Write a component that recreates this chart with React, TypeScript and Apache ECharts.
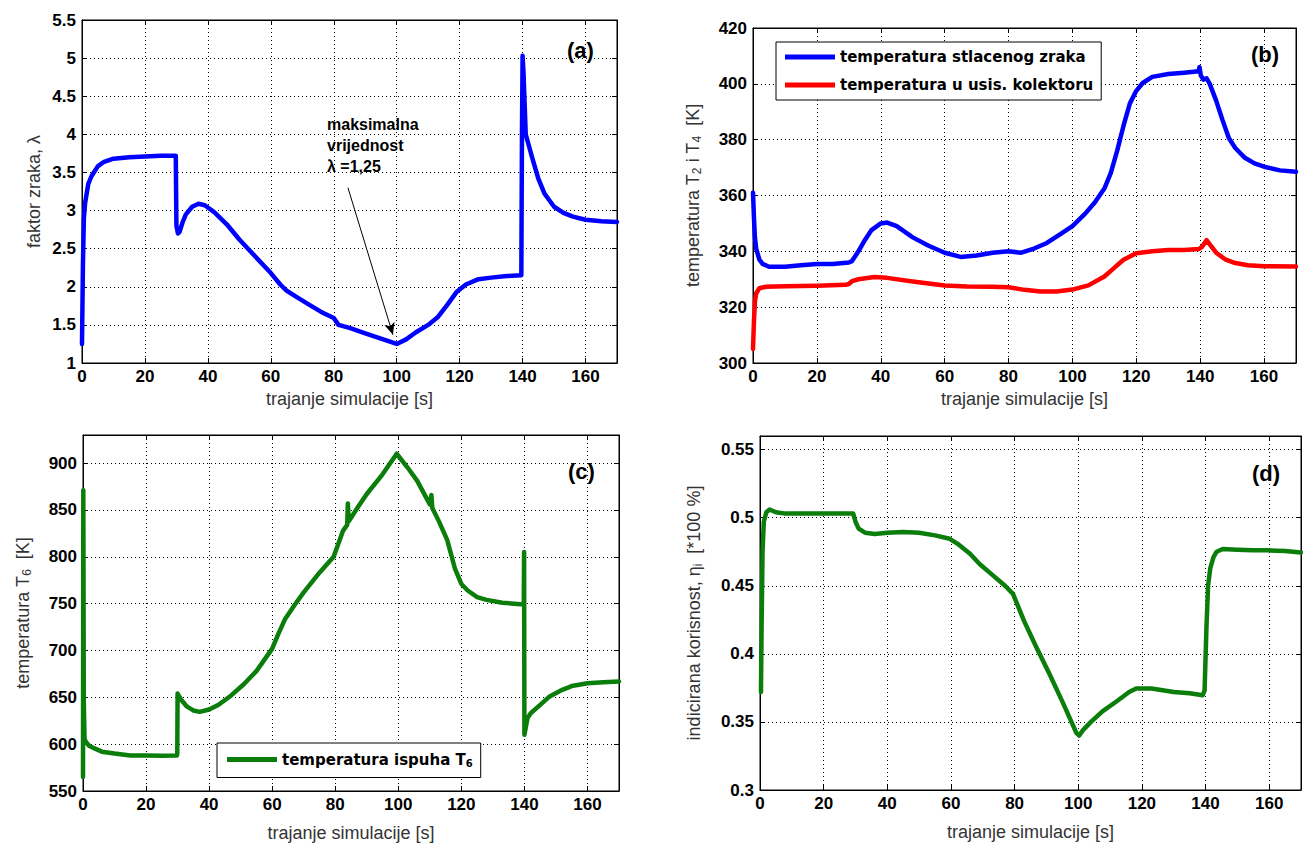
import React, { useEffect, useRef } from "react";
import * as echarts from "echarts";

// ---- Panel (a): air excess factor lambda ----
const timeA = [0, 0.3, 0.6, 1, 2, 3, 5, 7, 10, 15, 20, 25, 29.8, 30, 30.5, 31, 32, 33, 35, 37, 39, 42, 46, 50, 55, 60, 63, 65, 68, 72, 76, 80, 81.5, 85, 90, 95, 100, 103, 106, 110, 113, 116, 119, 122, 126, 130, 135, 139.6, 139.8, 140, 140.3, 141, 142, 143, 145, 147, 150, 153, 156, 160, 165, 170];
const lambdaA = [1.25, 2.3, 2.9, 3.1, 3.35, 3.45, 3.58, 3.64, 3.68, 3.7, 3.71, 3.72, 3.72, 2.8, 2.7, 2.72, 2.85, 2.95, 3.05, 3.09, 3.07, 2.98, 2.82, 2.62, 2.4, 2.18, 2.03, 1.95, 1.87, 1.77, 1.67, 1.59, 1.5, 1.46, 1.39, 1.32, 1.25, 1.31, 1.4, 1.5, 1.6, 1.76, 1.93, 2.03, 2.1, 2.12, 2.14, 2.15, 4.0, 5.03, 4.8, 4.0, 3.85, 3.7, 3.42, 3.22, 3.05, 2.97, 2.92, 2.88, 2.86, 2.85];

// ---- Panel (b): T2 (compressed air) and T4 (intake manifold) ----
const timeB1 = [0, 0.3, 0.6, 1, 2, 3, 5, 10, 15, 20, 25, 30, 31, 33, 35, 37, 40, 42, 45, 50, 55, 60, 65, 70, 75, 80, 84, 88, 92, 96, 100, 104, 107, 110, 112, 114, 116, 118, 120, 122, 125, 130, 135, 139.5, 139.8, 140.2, 141, 142, 143, 145, 147, 149, 151, 154, 157, 160, 165, 170];
const tempB1 = [361, 352, 345, 341, 337, 335.5, 334.5, 334.5, 335, 335.5, 335.5, 336, 336.5, 340, 344, 347.5, 350, 350.3, 349, 345, 342, 339.5, 338, 338.5, 339.5, 340, 339.5, 341, 343, 346, 349, 353.5, 357.5, 362.5, 368, 376, 385, 393, 397.5, 400.3, 402.5, 403.5, 404, 404.5, 406, 403, 401.5, 402, 400, 394, 387, 380.5, 377, 373.5, 371.5, 370.3, 369, 368.5];
const timeB2 = [0, 0.3, 0.6, 1, 2, 4, 10, 20, 29, 30, 31, 33, 38, 42, 50, 60, 67, 75, 80, 85, 90, 95, 100, 105, 110, 113, 116, 120, 125, 130, 135, 139.5, 140.5, 142, 143, 145, 148, 151, 155, 160, 170];
const tempB2 = [305, 315, 322, 325, 326.8, 327.3, 327.5, 327.7, 328, 328.3, 329.3, 330, 330.8, 330.5, 329.2, 327.8, 327.4, 327.3, 327.1, 326.2, 325.6, 325.6, 326.3, 327.8, 331, 334, 337, 339.3, 340, 340.5, 340.5, 340.8, 341.5, 344, 342.5, 339.5, 337, 335.8, 335, 334.7, 334.6];

// ---- Panel (c): exhaust temperature T6 ----
const timeC = [0, 0.1, 0.25, 0.5, 1, 2, 4, 6, 10, 15, 20, 25, 29.8, 29.9, 30, 31, 33, 35, 37, 40, 43, 47, 51, 55, 60, 62, 64, 67, 70, 75, 79.5, 82.5, 83.8, 84, 84.3, 87, 90, 95, 99.5, 103, 106, 110, 110.5, 110.8, 113, 115.5, 118, 120, 122, 125, 128, 133, 139.8, 139.9, 140, 141, 142, 145, 148, 152, 155, 160, 165, 170];
const tempC = [565, 871, 645, 605, 602, 598, 595, 592, 590, 588, 588, 587.5, 588, 590, 654, 648, 640, 636, 634.5, 637, 642, 652, 664, 678, 702, 718, 733, 748, 762, 783, 800, 828, 834, 857, 838, 852, 867, 888, 910, 895, 881, 856, 866, 852, 837, 818, 787, 771, 764, 757, 754, 751, 749, 805, 610, 628, 633, 642, 651, 658, 662, 665, 666, 667];

// ---- Panel (d): indicated efficiency ----
const timeD = [0.3, 0.5, 0.8, 1.2, 2, 3, 5, 8, 15, 20, 25, 29.3, 30, 31, 33, 36, 40, 45, 50, 55, 59.6, 62, 66, 69, 73, 77, 79.5, 83, 86.8, 91, 95.2, 99.4, 100.3, 101.5, 104, 107.7, 112, 116, 118.2, 123, 130, 135, 139.1, 139.7, 140.3, 140.8, 141.5, 142.5, 143.5, 145.4, 150, 155, 160, 165, 170];
const effD = [0.372, 0.42, 0.475, 0.497, 0.504, 0.506, 0.504, 0.503, 0.503, 0.503, 0.503, 0.503, 0.497, 0.492, 0.489, 0.488, 0.489, 0.4895, 0.489, 0.487, 0.4845, 0.481, 0.4735, 0.466, 0.458, 0.45, 0.444, 0.424, 0.405, 0.385, 0.364, 0.342, 0.34, 0.344, 0.35, 0.358, 0.365, 0.372, 0.3746, 0.3746, 0.372, 0.371, 0.3696, 0.373, 0.42, 0.45, 0.463, 0.471, 0.475, 0.477, 0.4765, 0.476, 0.476, 0.4755, 0.4745];

// ---- Axis settings ----
const xTicks = { min: 0, max: 170, interval: 20 };
const yA = { min: 1, max: 5.5, interval: 0.5 };
const yB = { min: 300, max: 420, interval: 20 };
const yC = { min: 550, max: 930, interval: 50 };
const yD = { min: 0.3, max: 0.56, interval: 0.05 };

const seriesNames = {
  a: "faktor zraka",
  b1: "temperatura stlacenog zraka",
  b2: "temperatura u usis. kolektoru",
  c: "temperatura ispuha T6",
  d: "indicirana korisnost",
};

const pairs = (xs: number[], ys: number[]) => xs.map((x, i) => [x, ys[i]]);

const FONT = '"Liberation Sans", Arial, sans-serif';
const LEG_FONT = '"DejaVu Sans", Verdana, sans-serif';

const nameRich = {
  n: { fontSize: 18, fontFamily: FONT, color: "#333", lineHeight: 20 },
  s: { fontSize: 12, fontFamily: FONT, color: "#333", lineHeight: 8, verticalAlign: "bottom" },
};

function xAxis(gridIndex: number, gap: number) {
  return {
    type: "value",
    gridIndex,
    ...xTicks,
    name: "trajanje simulacije [s]",
    nameLocation: "middle",
    nameGap: gap,
    nameTextStyle: { fontSize: 18, fontFamily: FONT, color: "#333" },
    axisLine: { show: true, onZero: false, lineStyle: { color: "#000", width: 1 } },
    axisTick: { show: true, inside: true, length: 5, lineStyle: { color: "#000" } },
    axisLabel: { showMaxLabel: false, margin: 5, color: "#000", fontWeight: "bold", fontSize: 17, fontFamily: FONT },
    splitLine: { show: true, lineStyle: { color: "#000", width: 1, type: [1, 3] } },
  };
}

function xAxisTop(gridIndex: number) {
  return {
    type: "value",
    gridIndex,
    position: "top",
    ...xTicks,
    axisLine: { show: true, onZero: false, lineStyle: { color: "#000", width: 1 } },
    axisTick: { show: true, inside: true, length: 5, lineStyle: { color: "#000" } },
    axisLabel: { show: false },
    splitLine: { show: false },
  };
}

function yAxis(gridIndex: number, range: any, name: string, gap: number) {
  return {
    type: "value",
    gridIndex,
    ...range,
    name,
    nameLocation: "middle",
    nameRotate: 90,
    nameGap: gap,
    nameTextStyle: { fontSize: 18, fontFamily: FONT, color: "#333", rich: nameRich },
    axisLine: { show: true, onZero: false, lineStyle: { color: "#000", width: 1 } },
    axisTick: { show: true, inside: true, length: 5, lineStyle: { color: "#000" } },
    axisLabel: { showMaxLabel: range.max === 930 || range.max === 0.56 ? false : true, margin: 6, color: "#000", fontWeight: "bold", fontSize: 17, fontFamily: FONT },
    splitLine: { show: true, lineStyle: { color: "#000", width: 1, type: [1, 3] } },
  };
}

function yAxisRight(gridIndex: number, range: any) {
  return {
    type: "value",
    gridIndex,
    position: "right",
    ...range,
    axisLine: { show: true, onZero: false, lineStyle: { color: "#000", width: 1 } },
    axisTick: { show: true, inside: true, length: 5, lineStyle: { color: "#000" } },
    axisLabel: { show: false },
    splitLine: { show: false },
  };
}

function line(name: string, xi: number, data: number[][], color: string, extra: any = {}) {
  return {
    type: "line",
    name,
    xAxisIndex: xi,
    yAxisIndex: xi,
    data,
    showSymbol: false,
    symbol: "none",
    lineStyle: { color, width: 4.5, join: "round", cap: "round" },
    itemStyle: { color },
    silent: true,
    ...extra,
  };
}

const legendRich = {
  n: { fontSize: 15, fontWeight: "bold", fontFamily: LEG_FONT, color: "#000", lineHeight: 18 },
  s: { fontSize: 10, fontWeight: "bold", fontFamily: LEG_FONT, color: "#000", lineHeight: 8, verticalAlign: "bottom" },
};

export default function App() {
  const ref = useRef<HTMLDivElement>(null);
  useEffect(() => {
    if (!ref.current) return;
    const chart = echarts.init(ref.current, null, { renderer: "svg" });
    const gridBase = { show: true, borderColor: "#000", borderWidth: 1, backgroundColor: "#fff", containLabel: false };
    const option: any = {
      animation: false,
      backgroundColor: "#fff",
      grid: [
        { ...gridBase, left: 82, top: 20, width: 535, height: 343 },
        { ...gridBase, left: 753, top: 28, width: 543, height: 335 },
        { ...gridBase, left: 83, top: 435, width: 536, height: 356 },
        { ...gridBase, left: 760, top: 436, width: 541, height: 354 },
      ],
      xAxis: [xAxis(0, 27), xAxis(1, 27), xAxis(2, 33), xAxis(3, 33), xAxisTop(0), xAxisTop(1), xAxisTop(2), xAxisTop(3)],
      yAxis: [
        yAxis(0, yA, "{n|faktor zraka, λ}", 38),
        yAxis(1, yB, "{n|temperatura T}{s|2}{n| i T}{s|4}{n|  [K]}", 50),
        yAxis(2, yC, "{n|temperatura T}{s|6}{n|  [K]}", 50),
        yAxis(3, yD, "{n|indicirana korisnost, η}{s|i}{n|  [*100 %]}", 56),
        yAxisRight(0, yA),
        yAxisRight(1, yB),
        yAxisRight(2, yC),
        yAxisRight(3, yD),
      ],
      legend: [
        {
          data: [seriesNames.b1, seriesNames.b2],
          left: 776,
          top: 42,
          orient: "vertical",
          icon: "rect",
          itemWidth: 50,
          itemHeight: 5,
          itemGap: 10,
          itemTextGap: 6,
          padding: [6, 8, 6, 9],
          backgroundColor: "#fff",
          borderColor: "#000",
          borderWidth: 1,
          borderRadius: 0,
          selectedMode: false,
          textStyle: { fontSize: 15, fontWeight: "bold", fontFamily: LEG_FONT, color: "#000", lineHeight: 18 },
        },
        {
          data: [seriesNames.c],
          left: 217,
          top: 743,
          orient: "vertical",
          icon: "rect",
          itemWidth: 50,
          itemHeight: 5,
          itemTextGap: 4,
          padding: [9, 8, 9, 10],
          backgroundColor: "#fff",
          borderColor: "#000",
          borderWidth: 1,
          borderRadius: 0,
          selectedMode: false,
          formatter: () => "{n|temperatura ispuha T}{s|6}",
          textStyle: { rich: legendRich, fontSize: 15, fontWeight: "bold", fontFamily: LEG_FONT, color: "#000" },
        },
      ],
      series: [
        line(seriesNames.a, 0, pairs(timeA, lambdaA), "#0000ff", {
          markLine: {
            silent: true,
            symbol: ["none", "arrow"],
            symbolSize: [8, 12],
            label: { show: false },
            lineStyle: { color: "#000", width: 1, type: "solid" },
            data: [[{ coord: [84.5, 3.3] }, { coord: [98.8, 1.37] }]],
          },
        }),
        line(seriesNames.b1, 1, pairs(timeB1, tempB1), "#0000ff"),
        line(seriesNames.b2, 1, pairs(timeB2, tempB2), "#ff0000"),
        line(seriesNames.c, 2, pairs(timeC, tempC), "#0b7d0b"),
        line(seriesNames.d, 3, pairs(timeD, effD), "#0b7d0b"),
      ],
      graphic: [
        { type: "text", left: 567, top: 39, style: { text: "(a)", font: 'bold 22px "Liberation Sans"', fill: "#000" } },
        { type: "text", left: 1251, top: 43, style: { text: "(b)", font: 'bold 22px "Liberation Sans"', fill: "#000" } },
        { type: "text", left: 568, top: 460, style: { text: "(c)", font: 'bold 22px "Liberation Sans"', fill: "#000" } },
        { type: "text", left: 1252, top: 462, style: { text: "(d)", font: 'bold 22px "Liberation Sans"', fill: "#000" } },
        {
          type: "text",
          left: 327,
          top: 114,
          style: { text: "maksimalna\nvrijednost\nλ =1,25", font: 'bold 16px "Liberation Sans"', fill: "#000", lineHeight: 21 },
        },
      ],
    };
    chart.setOption(option);
    return () => chart.dispose();
  }, []);
  return <div ref={ref} style={{ position: "fixed", left: 0, top: 0, width: 1303, height: 843, background: "#fff" }} />;
}
